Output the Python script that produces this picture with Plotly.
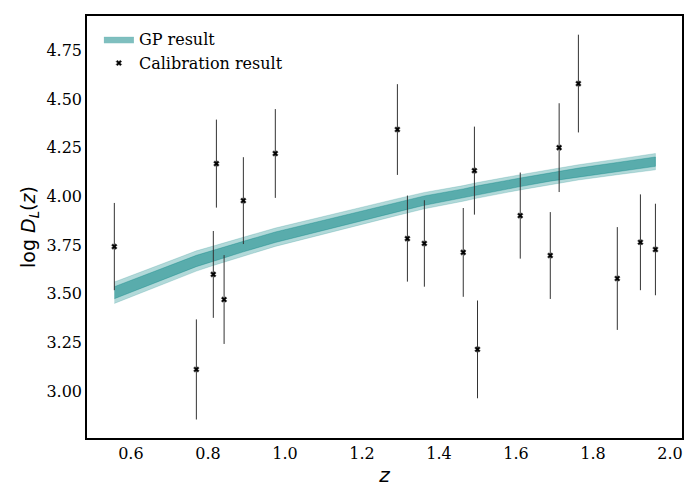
import plotly.graph_objects as go

# Calibration data
z_cal = [0.557, 0.770, 0.814, 0.822, 0.842, 0.892, 0.975, 1.292, 1.318, 1.362,
         1.463, 1.492, 1.500, 1.611, 1.689, 1.712, 1.762, 1.863, 1.923, 1.962]
logD_cal = [3.742, 3.111, 3.599, 4.168, 3.470, 3.978, 4.220, 4.343, 3.783, 3.758,
            3.712, 4.132, 3.214, 3.901, 3.696, 4.250, 4.579, 3.578, 3.764, 3.727]
err_cal = [0.224, 0.257, 0.223, 0.226, 0.228, 0.223, 0.228, 0.233, 0.221, 0.222,
           0.228, 0.226, 0.251, 0.221, 0.223, 0.228, 0.251, 0.264, 0.246, 0.235]

# GP reconstruction
gp_z = z_cal
gp_mean = [3.505, 3.668, 3.695, 3.700, 3.712, 3.742, 3.790, 3.945, 3.957, 3.978,
           4.015, 4.027, 4.031, 4.072, 4.100, 4.107, 4.123, 4.151, 4.166, 4.178]
gp_outer = [0.055, 0.052, 0.050, 0.050, 0.049, 0.048, 0.047, 0.043, 0.042, 0.042,
            0.040, 0.040, 0.040, 0.039, 0.039, 0.039, 0.039, 0.040, 0.041, 0.042]
gp_inner = [0.031, 0.029, 0.028, 0.028, 0.028, 0.027, 0.027, 0.025, 0.024, 0.024,
            0.023, 0.023, 0.023, 0.022, 0.022, 0.022, 0.022, 0.023, 0.023, 0.024]

x_ticks = [0.6, 0.8, 1.0, 1.2, 1.4, 1.6, 1.8, 2.0]
y_ticks = [3.00, 3.25, 3.50, 3.75, 4.00, 4.25, 4.50, 4.75]

SERIF = "'DejaVu Serif', 'Liberation Serif', serif"
SANS = "'DejaVu Sans', sans-serif"

def band(half):
    up = [m + h for m, h in zip(gp_mean, half)]
    lo = [m - h for m, h in zip(gp_mean, half)]
    return gp_z + gp_z[::-1], up + lo[::-1]

fig = go.Figure()

bx, by = band(gp_outer)
fig.add_trace(go.Scatter(x=bx, y=by, fill="toself", mode="lines",
                         fillcolor="rgba(0,128,128,0.3)",
                         line=dict(width=0.6, color="rgba(0,128,128,0.3)"),
                         showlegend=False, hoverinfo="skip"))
bx, by = band(gp_inner)
fig.add_trace(go.Scatter(x=bx, y=by, fill="toself", mode="lines",
                         fillcolor="rgba(0,128,128,0.5)",
                         line=dict(width=0.6, color="rgba(0,128,128,0.55)"),
                         name="GP result"))

fig.add_trace(go.Scatter(x=z_cal, y=logD_cal, mode="markers",
                         marker=dict(symbol="x", size=5, color="black",
                                     line=dict(width=0.5, color="#444")),
                         error_y=dict(type="data", array=err_cal, visible=True,
                                      color="#333", thickness=1, width=0),
                         name="Calibration result"))

fig.update_layout(
    width=692, height=492,
    margin=dict(l=79, r=18, t=8, b=62),
    paper_bgcolor="white", plot_bgcolor="white",
    font=dict(family=SERIF, size=16, color="black"),
    legend=dict(x=0.02, y=0.985, xanchor="left", yanchor="top",
                bgcolor="rgba(255,255,255,0)",
                font=dict(family=SERIF, size=16, color="black")),
    xaxis=dict(range=[0.486, 2.031], tickvals=x_ticks,
               ticktext=[f"{v:.1f}" for v in x_ticks], automargin=False,
               showgrid=False, zeroline=False, ticks="",
               tickfont=dict(family=SERIF, size=16),
               showline=True, linecolor="black", linewidth=1.5, mirror=True,
               title=dict(text="<i>z</i>", font=dict(family=SANS, size=20),
                          standoff=6)),
    yaxis=dict(range=[2.759, 4.926], tickvals=y_ticks,
               ticktext=[f"{v:.2f}" for v in y_ticks], automargin=False,
               showgrid=False, zeroline=False, ticks="",
               tickfont=dict(family=SERIF, size=16),
               showline=True, linecolor="black", linewidth=1.5, mirror=True,
               title=dict(text="log <i>D</i><sub><i>L</i></sub>(<i>z</i>)",
                          font=dict(family=SANS, size=19), standoff=6)),
)

fig.write_html("out.html")
